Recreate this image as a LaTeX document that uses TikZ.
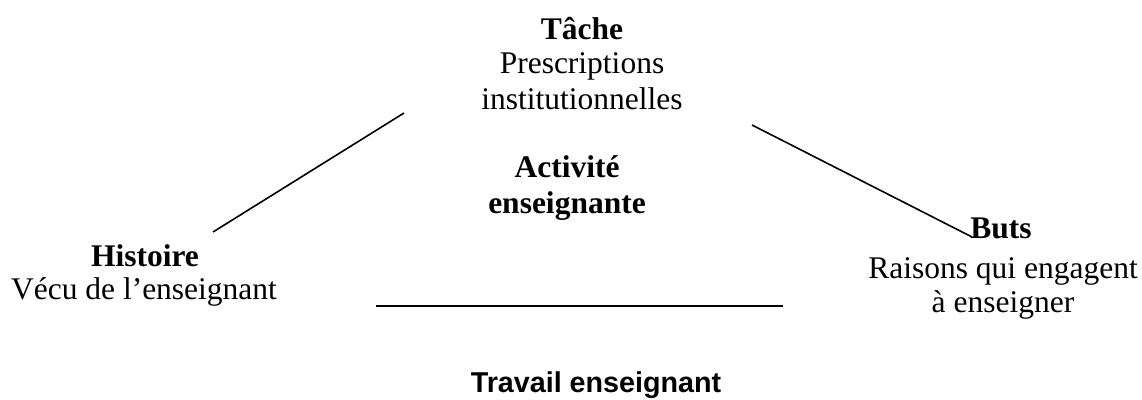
\documentclass[tikz,border=0pt]{standalone}
\usepackage{fontspec}
\setmainfont{Liberation Serif}
\newfontfamily\arialfont{Liberation Sans}
\begin{document}
\begin{tikzpicture}[x=1pt,y=-1pt,
  txt/.style={anchor=base,inner sep=0pt,font=\fontsize{31.5}{35}\selectfont},
  btxt/.style={txt,font=\fontsize{31.5}{35}\selectfont\bfseries},
  stxt/.style={anchor=base,inner sep=0pt,font=\fontsize{28.7}{33}\selectfont\arialfont\bfseries},
  edge/.style={line width=1.6pt,line cap=butt}]
\useasboundingbox (0,0) rectangle (1142,399);
% Tache
\node[btxt] (tache) at (582,39) {Tâche};
\node[txt] (presc1) at (582,73) {Prescriptions};
\node[txt] (presc2) at (582,109) {institutionnelles};
% Activite
\node[btxt] (act1) at (567,177) {Activité};
\node[btxt] (act2) at (567,213) {enseignante};
% Histoire
\node[btxt] (hist) at (145,266) {Histoire};
\node[txt] (vecu) at (144,299) {Vécu de l’enseignant};
% Buts
\node[btxt] (buts) at (1001,238) {Buts};
\node[txt] (rais1) at (1003,278) {Raisons qui engagent};
\node[txt] (rais2) at (1003,312) {à enseigner};
% Travail
\node[stxt] (trav) at (596,392) {Travail enseignant};
% lines
\coordinate (l1) at (213,232);
\coordinate (l2) at (404,113);
\coordinate (r1) at (752,125);
\coordinate (r2) at (972,237);
\coordinate (b1) at (376,306);
\coordinate (b2) at (783,306);
\draw[edge] (l1) -- (l2);
\draw[edge] (r1) -- (r2);
\draw[edge] (b1) -- (b2);
\end{tikzpicture}
\end{document}
